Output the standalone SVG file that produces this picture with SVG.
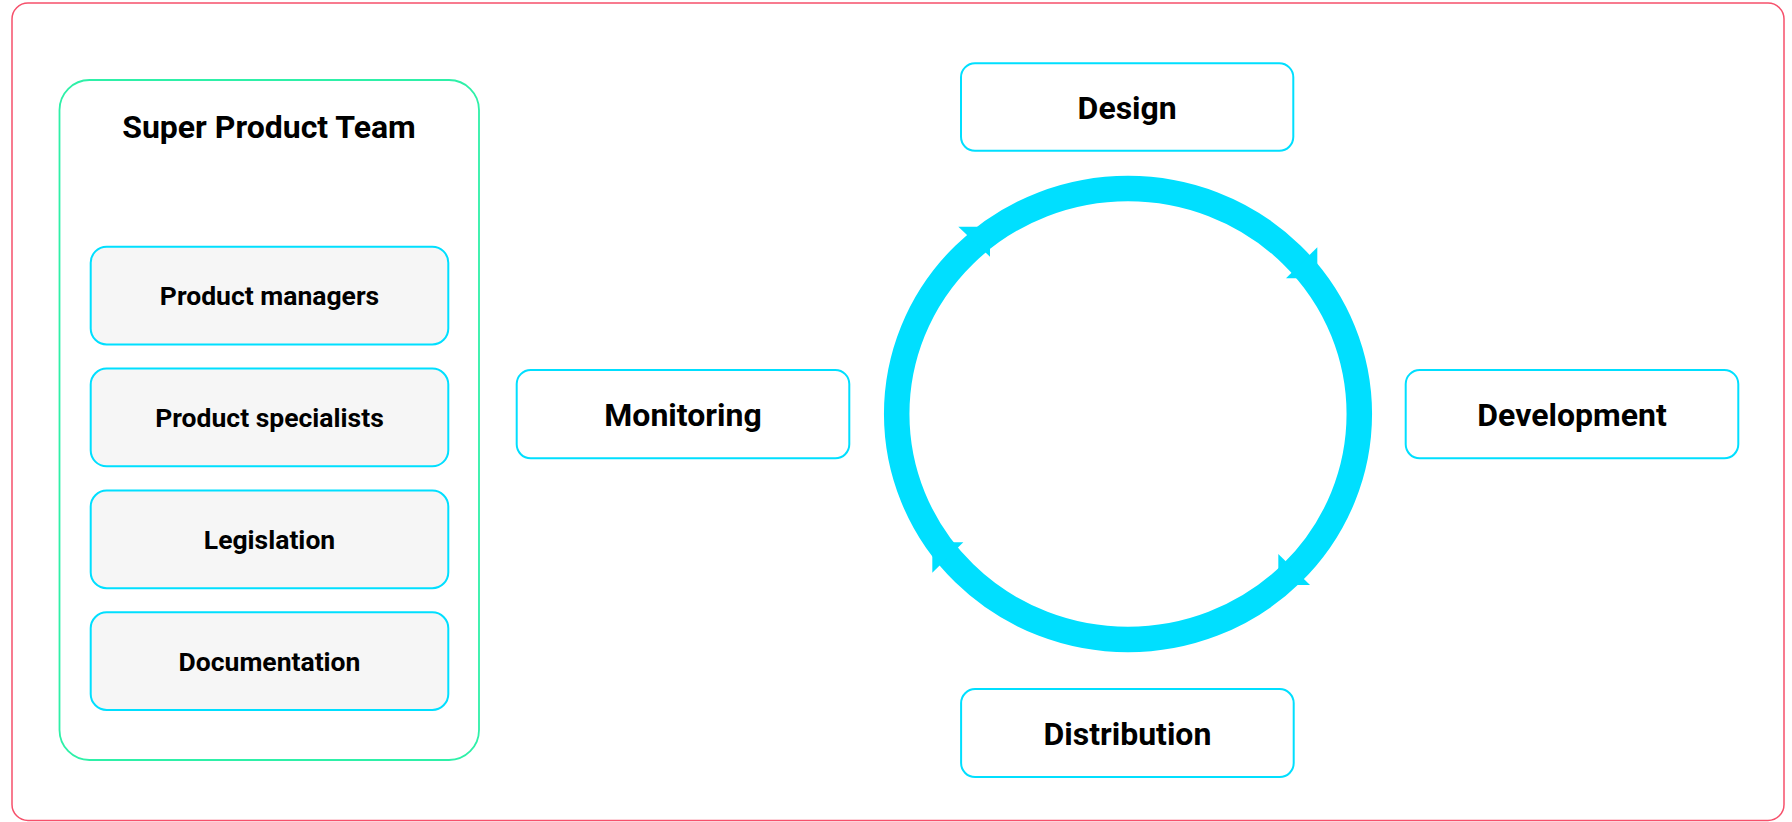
<svg xmlns="http://www.w3.org/2000/svg" width="1792" height="822" viewBox="0 0 1792 822">
  <style>
    .frame { fill: #ffffff; stroke: #f6506b; stroke-width: 1.5; }
    .team { fill: #ffffff; stroke: #2ef0a8; stroke-width: 1.8; }
    .member { fill: #f6f6f6; stroke: #00dfff; stroke-width: 2; }
    .stage { fill: #ffffff; stroke: #00dfff; stroke-width: 2; }
    .label { font-family: Roboto, "Liberation Sans", sans-serif; font-weight: 700; fill: #000000; text-anchor: middle; }
    .big { font-size: 32px; }
    .small { font-size: 26.5px; }
    .cycle { fill: none; stroke: #00dfff; stroke-width: 25.5; }
    .head { fill: #00dfff; }
  </style>

  <rect class="frame" x="12" y="3" width="1772" height="817.5" rx="16"/>

  <g id="super-product-team">
    <rect class="team" x="59.5" y="80" width="419.5" height="680" rx="30"/>
    <text class="label big" x="269" y="137.5">Super Product Team</text>
  </g>

  <g id="product-managers">
    <rect class="member" x="90.7" y="246.7" width="357.6" height="97.7" rx="16"/>
    <text class="label small" x="269.5" y="305">Product managers</text>
  </g>
  <g id="product-specialists">
    <rect class="member" x="90.7" y="368.6" width="357.6" height="97.7" rx="16"/>
    <text class="label small" x="269.5" y="427">Product specialists</text>
  </g>
  <g id="legislation">
    <rect class="member" x="90.7" y="490.5" width="357.6" height="97.7" rx="16"/>
    <text class="label small" x="269.5" y="549">Legislation</text>
  </g>
  <g id="documentation">
    <rect class="member" x="90.7" y="612.3" width="357.6" height="97.7" rx="16"/>
    <text class="label small" x="269.5" y="670.7">Documentation</text>
  </g>

  <g id="design">
    <rect class="stage" x="961" y="63.3" width="332.3" height="87.5" rx="14"/>
    <text class="label big" x="1127.2" y="119">Design</text>
  </g>
  <g id="development">
    <rect class="stage" x="1405.7" y="370" width="332.6" height="88.3" rx="14"/>
    <text class="label big" x="1572" y="425.7">Development</text>
  </g>
  <g id="distribution">
    <rect class="stage" x="961.1" y="689.1" width="332.6" height="88" rx="14"/>
    <text class="label big" x="1127.4" y="745">Distribution</text>
  </g>
  <g id="monitoring">
    <rect class="stage" x="516.7" y="370" width="332.6" height="88.3" rx="14"/>
    <text class="label big" x="683" y="425.7">Monitoring</text>
  </g>

  <!-- clockwise cycle: ring with four arrowheads -->
  <g id="connectors">
    <ellipse class="cycle" cx="1128" cy="414" rx="231.3" ry="225.5"/>
    <polygon class="head" points="958.3,226.7 990,226.7 990,256.7"/>
    <polygon class="head" points="1317.3,247.3 1317.3,278.3 1286,278.3"/>
    <polygon class="head" points="1278.3,554 1278.3,585 1310,585"/>
    <polygon class="head" points="963.3,542.3 932.3,542.3 932.3,572.7"/>
  </g>
</svg>
